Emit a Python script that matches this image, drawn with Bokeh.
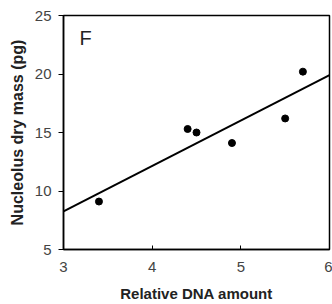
from bokeh.plotting import figure
from bokeh.models import Range1d, FixedTicker, Label
from bokeh.embed import file_html
from bokeh.resources import INLINE

# data
dna = [3.4, 4.4, 4.5, 4.9, 5.5, 5.7]
mass = [9.1, 15.3, 15.0, 14.1, 16.2, 20.2]
fit_x = [3.0, 6.0]
fit_y = [8.25, 19.9]
x_ticks = [3, 4, 5, 6]
y_ticks = [5, 10, 15, 20, 25]

p = figure(width=332, height=304, output_backend="svg", toolbar_location=None,
           x_range=Range1d(3, 6), y_range=Range1d(5, 25),
           min_border_left=63, min_border_right=3, min_border_top=15, min_border_bottom=54)
p.grid.visible = False
p.outline_line_color = "black"
p.outline_line_width = 1.5

p.line(fit_x, fit_y, line_color="black", line_width=2)
p.scatter(dna, mass, size=7, color="black")

for ax in (p.xaxis[0], p.yaxis[0]):
    ax.axis_line_color = "black"
    ax.axis_line_width = 1.5
    ax.minor_tick_line_color = None
    ax.major_label_text_font = "Liberation Sans"
    ax.major_label_text_font_size = "15px"
    ax.major_label_text_color = "#444444"
    ax.axis_label_text_font = "Liberation Sans"
    ax.axis_label_text_font_size = "15px"
    ax.axis_label_text_font_style = "bold"
    ax.axis_label_text_color = "#222222"

p.xaxis.major_tick_out = 0
p.xaxis.major_tick_in = 4
p.yaxis.major_tick_out = 5
p.yaxis.major_tick_in = 0
p.xaxis.ticker = FixedTicker(ticks=x_ticks)
p.yaxis.ticker = FixedTicker(ticks=y_ticks)
p.xaxis.axis_label = "Relative DNA amount"
p.xaxis.axis_label_standoff = 10
p.xaxis.major_label_standoff = 12
p.yaxis.major_label_standoff = 7
p.yaxis.axis_label = "Nucleolus dry mass (pg)"
p.yaxis.axis_label_text_font_size = "16px"
p.yaxis.axis_label_standoff = 6

p.add_layout(Label(x=3.18, y=23.1, text="F", text_font="Liberation Sans",
                   text_font_size="20px", text_baseline="middle", text_color="#222222"))

open("out.html", "w").write(file_html(p, INLINE))
